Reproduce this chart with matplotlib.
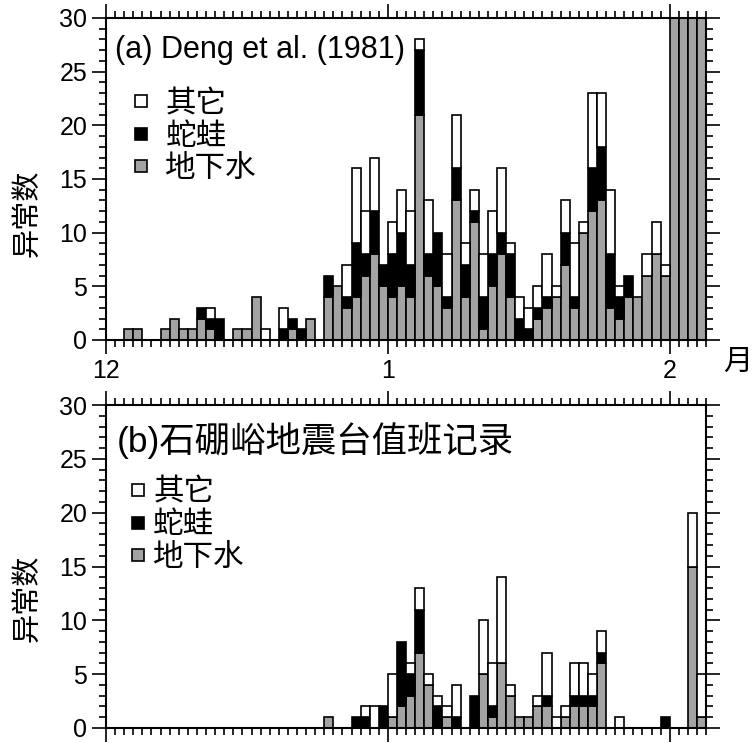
import matplotlib
matplotlib.use("Agg")
import matplotlib.pyplot as plt
from matplotlib.lines import Line2D
from matplotlib.ticker import MultipleLocator, FixedLocator

plt.rcParams['font.family'] = ['Liberation Sans', 'Noto Sans CJK SC']

# days counted from 1 Dec (day 0) to 5 Feb; one bar per day
month_ticks = [0, 31, 62]
month_labels = ["12", "1", "2"]

# (a) Deng et al. (1981): groundwater / snakes & frogs / other, per day
deng_water = [0, 0, 1, 1, 0, 0, 1, 2, 1, 1, 2, 1, 0, 0, 1, 1, 4, 0, 0, 0,
              1, 0, 2, 0, 4, 5, 3, 4, 6, 8, 5, 4, 5, 4, 21, 6, 5, 3, 13, 4,
              11, 1, 5, 8, 4, 0, 0, 2, 3, 4, 7, 3, 10, 12, 13, 3, 2, 4, 4, 6,
              8, 6, 40, 45, 50, 60]
deng_snake = [0, 0, 0, 0, 0, 0, 0, 0, 0, 0, 1, 1, 2, 0, 0, 0, 0, 0, 0, 1,
              1, 1, 0, 0, 2, 0, 1, 5, 2, 4, 2, 4, 5, 3, 6, 2, 5, 1, 3, 3,
              1, 3, 3, 2, 4, 2, 1, 1, 1, 0, 3, 1, 0, 4, 5, 5, 2, 2, 0, 0,
              0, 0, 0, 0, 0, 0]
deng_other = [0, 0, 0, 0, 0, 0, 0, 0, 0, 0, 0, 1, 0, 0, 0, 0, 0, 1, 0, 2,
              0, 0, 0, 0, 0, 0, 3, 7, 4, 5, 0, 3, 4, 5, 1, 5, 0, 4, 5, 2,
              2, 4, 4, 6, 1, 2, 2, 2, 4, 1, 3, 5, 1, 7, 5, 6, 1, 0, 0, 2,
              3, 1, 0, 0, 0, 0]

# (b) Shipengyu seismic station duty records
spy_water = [0, 0, 0, 0, 0, 0, 0, 0, 0, 0, 0, 0, 0, 0, 0, 0, 0, 0, 0, 0,
             0, 0, 0, 0, 1, 0, 0, 0, 0, 0, 0, 1, 2, 3, 7, 4, 0, 1, 0, 0,
             0, 5, 1, 6, 3, 1, 1, 2, 2, 0, 1, 2, 2, 2, 6, 0, 0, 0, 0, 0,
             0, 0, 0, 0, 15, 1]
spy_snake = [0, 0, 0, 0, 0, 0, 0, 0, 0, 0, 0, 0, 0, 0, 0, 0, 0, 0, 0, 0,
             0, 0, 0, 0, 0, 0, 0, 1, 1, 0, 2, 0, 6, 2, 4, 0, 2, 0, 1, 0,
             3, 0, 1, 0, 0, 0, 0, 0, 1, 0, 0, 1, 1, 1, 1, 0, 0, 0, 0, 0,
             0, 1, 0, 0, 0, 0]
spy_other = [0, 0, 0, 0, 0, 0, 0, 0, 0, 0, 0, 0, 0, 0, 0, 0, 0, 0, 0, 0,
             0, 0, 0, 0, 0, 0, 0, 0, 1, 2, 0, 4, 0, 1, 2, 1, 1, 1, 3, 0,
             0, 5, 4, 8, 1, 0, 0, 1, 4, 1, 1, 3, 3, 2, 2, 0, 1, 0, 0, 0,
             0, 0, 0, 0, 5, 4]

gray = "#a3a3a3"
cjk = ['Noto Sans CJK SC', 'Liberation Sans']


def stacked(ax, water, snake, other):
    base = [0] * len(water)
    for vals, col in [(water, gray), (snake, "black"), (other, "white")]:
        days = [d for d, v in enumerate(vals) if v > 0]
        ax.bar(days, [vals[d] for d in days], bottom=[base[d] for d in days],
               width=1, align="edge", color=col, edgecolor="black", linewidth=1.2)
        base = [b + v for b, v in zip(base, vals)]


def style(ax, show_labels, anchor, pad):
    ax.set_xlim(0, 66)
    ax.set_ylim(0, 30)
    ax.yaxis.set_major_locator(MultipleLocator(5))
    ax.yaxis.set_minor_locator(MultipleLocator(1))
    ax.xaxis.set_major_locator(FixedLocator(month_ticks))
    ax.xaxis.set_minor_locator(MultipleLocator(1))
    ax.set_xticklabels(month_labels if show_labels else [])
    ax.tick_params(which="both", direction="out", top=True, right=True, width=1.2,
                   labelsize=18)
    ax.tick_params(which="major", length=10)
    ax.tick_params(which="minor", length=5)
    for s in ax.spines.values():
        s.set_linewidth(1.5)
    handles = [Line2D([], [], ls="none", marker="s", markersize=8, mfc=c,
                      mec="black", mew=1.2) for c in ["white", "black", gray]]
    ax.legend(handles, ["其它", "蛇蛙", "地下水"], loc="upper left",
              bbox_to_anchor=anchor, frameon=False, borderpad=0,
              handlelength=0.5, handletextpad=pad,
              labelspacing=0.05, prop={"family": cjk, "size": 22})


fig = plt.figure(figsize=(7.52, 7.43), dpi=100)
ax1 = fig.add_axes([0.141, 0.5424, 0.798, 0.4334])
ax2 = fig.add_axes([0.141, 0.0202, 0.798, 0.4347])

stacked(ax1, deng_water, deng_snake, deng_other)
stacked(ax2, spy_water, spy_snake, spy_other)
style(ax1, True, (0.02, 0.83), 0.55)
style(ax2, False, (0.015, 0.825), 0.25)

ax1.text(0.015, 0.9, "(a) Deng et al. (1981)", transform=ax1.transAxes,
         fontsize=22, va="center", ha="left")
ax2.text(0.018, 0.89, "(b)石硼峪地震台值班记录", transform=ax2.transAxes,
         fontsize=25.5, va="center", ha="left", family=['Liberation Sans', 'Noto Sans CJK SC'])

fig.text(0.037, 0.713, "异常数", rotation=90, fontsize=21, va="center", ha="center", family=cjk)
fig.text(0.037, 0.195, "异常数", rotation=90, fontsize=21, va="center", ha="center", family=cjk)
fig.text(0.981, 0.513, "月", fontsize=21, va="center", ha="center", family=cjk)

fig.savefig("out.png", dpi=100)
